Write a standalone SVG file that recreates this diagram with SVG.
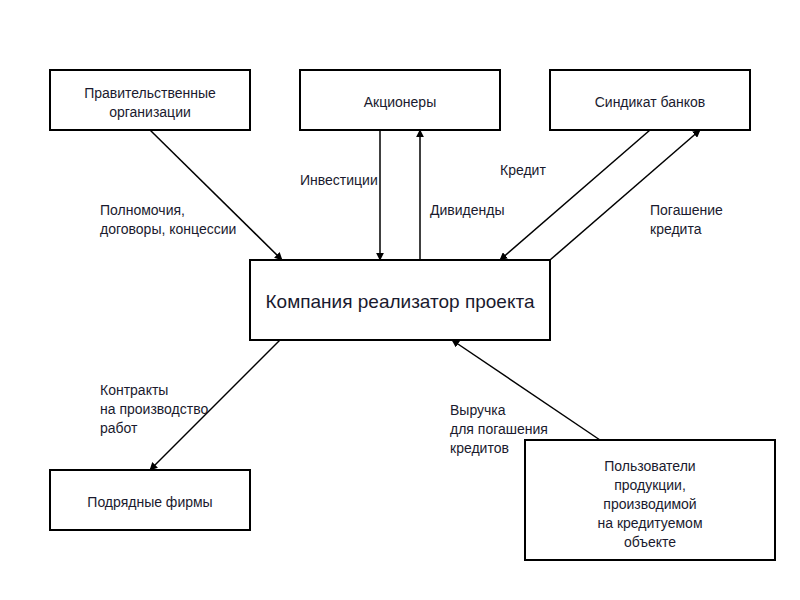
<svg xmlns="http://www.w3.org/2000/svg" width="800" height="600" viewBox="0 0 800 600">
<style>
rect{fill:#fff;stroke:#000;stroke-width:2}
text{font-family:"Liberation Sans",Arial,sans-serif;font-size:14px;fill:#1a1a2e}
.c{text-anchor:middle}
line{stroke:#000;stroke-width:1.5;marker-end:url(#a)}
</style>
<defs><marker id="a" viewBox="0 0 10 10" refX="9" refY="5" markerWidth="8" markerHeight="8" orient="auto" markerUnits="userSpaceOnUse"><path d="M0,0L10,5L0,10z" fill="#000"/></marker></defs>
<rect x="0" y="0" width="800" height="600" style="stroke:none"/>
<g id="gov"><rect x="50" y="70" width="200" height="60"/><text class="c" x="150" y="98">Правительственные</text><text class="c" x="150" y="117">организации</text></g>
<g id="share"><rect x="300" y="70" width="200" height="60"/><text class="c" x="400" y="107">Акционеры</text></g>
<g id="banks"><rect x="550" y="70" width="200" height="60"/><text class="c" x="650" y="107">Синдикат банков</text></g>
<g id="company"><rect x="250" y="260" width="300" height="80"/><text class="c" x="400" y="308" style="font-size:19px">Компания реализатор проекта</text></g>
<g id="contr"><rect x="50" y="470" width="200" height="60"/><text class="c" x="150" y="507">Подрядные фирмы</text></g>
<g id="users"><rect x="525" y="440" width="250" height="120"/><text class="c" x="650" y="471">Пользователи</text><text class="c" x="650" y="490">продукции,</text><text class="c" x="650" y="509">производимой</text><text class="c" x="650" y="528">на кредитуемом</text><text class="c" x="650" y="547">объекте</text></g>
<g id="connectors">
<line x1="150" y1="130" x2="282" y2="260"/>
<line x1="380" y1="130" x2="380" y2="260"/>
<line x1="420" y1="260" x2="420" y2="130"/>
<line x1="650" y1="130" x2="500" y2="260"/>
<line x1="550" y1="260" x2="700" y2="130"/>
<line x1="280" y1="340" x2="150" y2="470"/>
<line x1="600" y1="440" x2="452" y2="340"/>
</g>
<g id="labels">
<text x="100" y="215">Полномочия,</text><text x="100" y="234">договоры, концессии</text>
<text x="300" y="185">Инвестиции</text>
<text x="430" y="215">Дивиденды</text>
<text x="500" y="175">Кредит</text>
<text x="650" y="215">Погашение</text><text x="650" y="234">кредита</text>
<text x="100" y="395">Контракты</text><text x="100" y="414">на производство</text><text x="100" y="433">работ</text>
<text x="450" y="415">Выручка</text><text x="450" y="434">для погашения</text><text x="450" y="453">кредитов</text>
</g>
</svg>
